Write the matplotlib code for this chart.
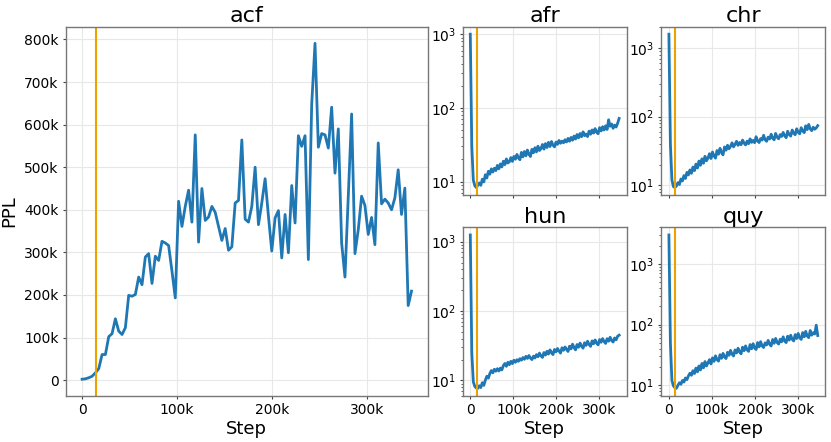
import numpy as np
import matplotlib
matplotlib.use("Agg")
import matplotlib.pyplot as plt
from matplotlib.ticker import FuncFormatter

# training steps (shared by all panels)
steps = np.arange(100) * 3500
warmup_step = 15000

# acf perplexity, in thousands
acf = [2, 3, 5.5, 9, 17, 27, 60, 60, 102, 109,
       144, 115, 107, 123, 199, 197, 201, 242, 224, 289,
       297, 227, 291, 281, 326, 322, 316, 256, 193, 420,
       361, 408, 446, 371, 576, 324, 450, 375, 383, 408,
       394, 361, 328, 356, 305, 313, 416, 422, 564, 378,
       371, 408, 500, 365, 416, 473, 385, 303, 381, 398,
       287, 389, 299, 457, 369, 574, 549, 574, 283, 647,
       791, 547, 579, 576, 545, 641, 486, 590, 322, 242,
       432, 625, 297, 353, 432, 410, 342, 382, 318, 557,
       414, 425, 416, 400, 428, 494, 389, 451, 175, 209]

afr = [1000, 30, 10.5, 8.8, 8.3, 8.9, 9.6, 8.9, 10.8, 9.9,
       12.4, 11.2, 13.8, 12.6, 14.9, 13.5, 15.2, 14.1, 16.6, 14.9,
       17.4, 15.8, 18.9, 17.0, 20.3, 17.9, 18.6, 21.2, 18.8, 22.0,
       20.1, 23.4, 21.0, 19.8, 24.9, 21.7, 25.6, 22.4, 26.8, 23.5,
       21.9, 27.4, 24.6, 28.8, 25.3, 30.2, 26.4, 28.0, 31.9, 27.6,
       32.8, 29.0, 34.1, 29.9, 35.0, 31.2, 29.6, 34.4, 32.0, 36.2,
       33.1, 35.4, 33.6, 37.0, 34.5, 38.6, 35.3, 39.8, 36.4, 41.5,
       37.8, 43.6, 39.2, 45.0, 40.6, 47.3, 42.0, 44.2, 40.8, 48.5,
       43.9, 50.2, 45.5, 52.4, 46.8, 44.6, 54.0, 48.7, 55.6, 50.1,
       57.2, 51.0, 69.0, 56.3, 60.5, 52.8, 58.4, 55.0, 62.0, 72.0]

chr_ = [1580, 40, 12, 9.6, 9.3, 9.8, 11.0, 10.3, 12.4, 11.6,
        13.9, 12.6, 15.5, 14.2, 16.8, 15.0, 18.5, 16.4, 20.4, 17.9,
        22.6, 19.6, 24.3, 21.0, 26.5, 22.8, 25.0, 28.9, 24.6, 30.6,
        26.8, 24.9, 32.1, 28.4, 34.6, 30.0, 27.8, 36.2, 32.5, 38.4,
        34.1, 37.0, 41.6, 36.3, 39.5, 43.8, 38.2, 42.0, 39.0, 45.6,
        41.2, 38.8, 44.0, 40.4, 47.5, 42.2, 45.1, 41.8, 51.0, 44.3,
        42.0, 48.0, 45.6, 53.5, 46.1, 43.8, 50.4, 47.2, 55.4, 48.6,
        46.0, 57.0, 50.1, 47.6, 54.8, 51.5, 59.0, 52.7, 49.4, 61.3,
        55.0, 52.0, 63.8, 57.4, 54.5, 66.5, 59.2, 56.3, 69.0, 62.0,
        58.5, 73.5, 64.8, 77.0, 66.4, 62.5, 70.2, 65.6, 68.5, 74.0]

hun = [1250, 25, 9.6, 8.2, 7.8, 7.7, 8.4, 7.9, 9.3, 8.5,
       10.1, 11.5, 10.8, 12.6, 13.9, 12.9, 14.5, 13.6, 14.8, 13.7,
       15.1, 14.2, 16.4, 17.6, 16.0, 18.3, 16.9, 18.9, 17.5, 19.6,
       18.3, 19.9, 18.9, 20.6, 19.6, 21.4, 20.2, 22.3, 20.8, 22.9,
       21.0, 20.0, 22.4, 21.1, 23.6, 22.0, 24.8, 22.6, 21.5, 25.3,
       23.2, 26.4, 24.0, 27.6, 25.1, 23.6, 28.0, 25.9, 28.9, 26.6,
       24.8, 29.6, 27.2, 30.4, 28.0, 26.2, 31.2, 28.5, 33.4, 29.8,
       27.6, 33.0, 30.1, 34.6, 31.2, 29.2, 35.0, 32.0, 36.8, 33.0,
       31.0, 37.2, 33.8, 38.4, 34.6, 32.6, 38.9, 35.5, 40.2, 36.4,
       34.2, 40.0, 36.8, 42.0, 37.6, 35.8, 41.0, 38.5, 43.5, 45.0]

quy = [3000, 50, 12, 9.8, 9.1, 8.9, 10.0, 11.0, 10.4, 12.0,
       11.3, 13.2, 12.4, 14.3, 15.8, 14.6, 17.4, 15.6, 19.2, 16.7,
       20.8, 17.9, 22.9, 19.4, 24.6, 20.8, 23.5, 26.5, 22.5, 28.3,
       24.8, 30.6, 26.5, 25.0, 31.9, 27.8, 33.6, 29.3, 27.6, 35.0,
       31.2, 37.6, 32.6, 30.4, 38.3, 34.1, 40.8, 35.4, 33.0, 42.4,
       37.1, 44.6, 38.4, 36.2, 46.9, 40.0, 48.5, 41.3, 38.9, 50.6,
       43.0, 52.4, 44.6, 41.9, 50.0, 46.2, 55.0, 47.5, 44.4, 56.8,
       49.2, 59.2, 50.6, 47.8, 57.5, 52.0, 62.8, 53.6, 50.5, 64.5,
       55.6, 66.8, 57.2, 53.8, 68.4, 59.0, 71.5, 60.6, 57.0, 74.0,
       63.0, 77.5, 64.8, 61.0, 80.0, 67.0, 73.5, 70.0, 98.0, 66.0]

blue = '#1f77b4'
orange = '#eea200'


def kfmt(x, pos):
    if x == 0:
        return '0'
    return '%dk' % round(x / 1000)


def style(ax):
    ax.grid(True, color='#e8e8e8', linewidth=0.8)
    ax.set_axisbelow(True)
    for s in ax.spines.values():
        s.set_color('#777777')
        s.set_linewidth(1.0)
    ax.tick_params(labelsize=10, color='#444444', length=2.5, pad=2.5)
    ax.tick_params(which='minor', length=1.5, color='#444444')
    ax.xaxis.set_major_formatter(FuncFormatter(kfmt))
    ax.set_xticks([0, 100000, 200000, 300000])


fig = plt.figure(figsize=(8.31, 4.42), dpi=100)
gs = fig.add_gridspec(2, 4, left=0.079, right=0.993, top=0.94, bottom=0.104,
                      wspace=0.213, hspace=0.19)

# big panel
ax = fig.add_subplot(gs[:, 0:2])
ax.plot(steps, np.array(acf) * 1000, color=blue, lw=2)
ax.axvline(warmup_step, color=orange, lw=1.5)
style(ax)
ax.yaxis.set_major_formatter(FuncFormatter(kfmt))
ax.set_yticks(np.arange(0, 800001, 100000))
ax.set_title('acf', fontsize=16, pad=3)
ax.set_xlabel('Step', fontsize=13, labelpad=2)
ax.set_ylabel('PPL', fontsize=13)

# small log panels
small = [('afr', afr, gs[0, 2], False), ('chr', chr_, gs[0, 3], False),
         ('hun', hun, gs[1, 2], True), ('quy', quy, gs[1, 3], True)]
for name, vals, cell, bottom_row in small:
    ax = fig.add_subplot(cell)
    ax.plot(steps, vals, color=blue, lw=2)
    ax.axvline(warmup_step, color=orange, lw=1.5)
    ax.set_yscale('log')
    style(ax)
    ax.set_title(name, fontsize=16, pad=3)
    if bottom_row:
        ax.set_xlabel('Step', fontsize=13, labelpad=2)
    else:
        ax.tick_params(labelbottom=False)

plt.savefig('out.png', dpi=100)
